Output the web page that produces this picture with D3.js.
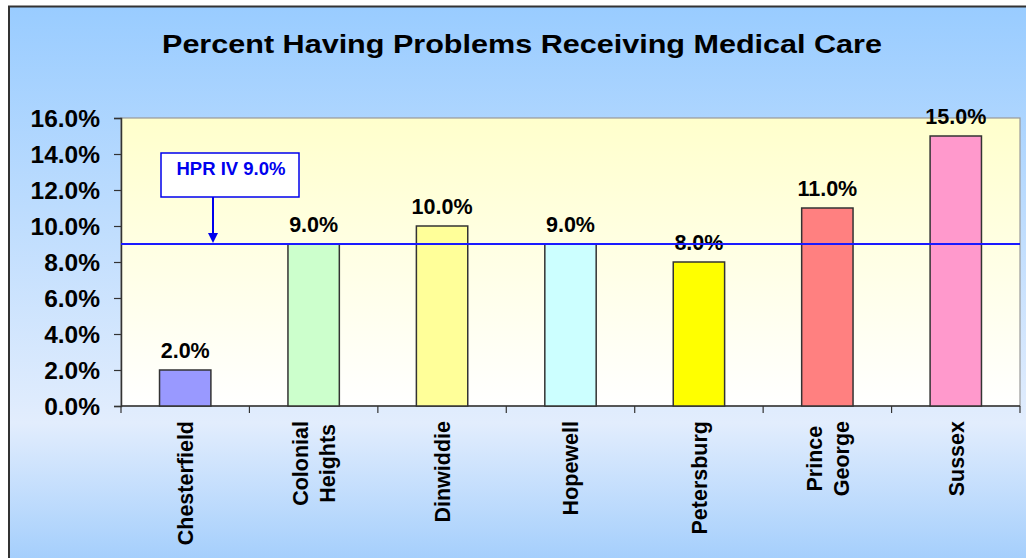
<!DOCTYPE html>
<html><head><meta charset="utf-8">
<script src="https://cdn.jsdelivr.net/npm/d3@7"></script>
<style>html,body{margin:0;padding:0;background:#fff;overflow:hidden}svg{display:block}</style>
</head><body>
<svg id="c" width="1026" height="558"></svg>
<script>
const categories = ["Chesterfield", "Colonial Heights", "Dinwiddie", "Hopewell", "Petersburg", "Prince George", "Sussex"];
const labelLines = [["Chesterfield"], ["Colonial", "Heights"], ["Dinwiddie"], ["Hopewell"], ["Petersburg"], ["Prince", "George"], ["Sussex"]];
const values = [2.0, 9.0, 10.0, 9.0, 8.0, 11.0, 15.0];
const barColors = ["#9999ff", "#ccffcc", "#ffff99", "#ccffff", "#ffff00", "#ff8080", "#ff99cc"];
const yTicks = [0, 2, 4, 6, 8, 10, 12, 14, 16];
const refValue = 9.0;
const refLabel = "HPR IV 9.0%";
const title = "Percent Having Problems Receiving Medical Care";

const svg = d3.select("#c");
const W = 1026, H = 558;
const font = "'Liberation Sans', Arial, Helvetica, sans-serif";
const defs = svg.append("defs");

const bg = defs.append("linearGradient").attr("id","bg").attr("x1",0).attr("x2",0).attr("y1",0).attr("y2",1);
bg.append("stop").attr("offset","0%").attr("stop-color","#99ccff");
bg.append("stop").attr("offset","72%").attr("stop-color","#e2edfd");
bg.append("stop").attr("offset","100%").attr("stop-color","#99c9fc");

const pg = defs.append("linearGradient").attr("id","pg").attr("x1",0).attr("x2",0).attr("y1",0).attr("y2",1);
pg.append("stop").attr("offset","0%").attr("stop-color","#ffffcc");
pg.append("stop").attr("offset","100%").attr("stop-color","#ffffff");

// outer chart area
svg.append("rect").attr("x",9).attr("y",6.5).attr("width",W+20).attr("height",H+20)
  .attr("fill","url(#bg)").attr("stroke","#333").attr("stroke-width",2);

const m = {left:121, right:1020, top:118, bottom:406};
const x = d3.scaleBand().domain(categories).range([m.left, m.right]).paddingInner(0.6).paddingOuter(0.3);
const y = d3.scaleLinear().domain([0,16]).range([m.bottom, m.top]);

// plot area
svg.append("rect").attr("x",m.left).attr("y",m.top).attr("width",m.right-m.left).attr("height",m.bottom-m.top)
  .attr("fill","url(#pg)").attr("stroke","#999").attr("stroke-width",1.2);

// title
svg.append("text").attr("x",522).attr("y",53).attr("text-anchor","middle")
  .attr("font-family",font).attr("font-weight","bold").attr("font-size",26.5).attr("fill","#000")
  .attr("textLength",720).attr("lengthAdjust","spacingAndGlyphs").text(title);

// y axis
const yAxis = svg.append("g").attr("transform",`translate(${m.left},0)`)
  .call(d3.axisLeft(y).tickValues(yTicks).tickFormat(d => d.toFixed(1) + "%").tickSize(7).tickPadding(14));
yAxis.select(".domain").attr("stroke","#333").attr("stroke-width",1.5);
yAxis.selectAll(".tick line").attr("stroke","#333").attr("stroke-width",1.2);
yAxis.selectAll(".tick text").attr("font-family",font).attr("font-weight","bold").attr("font-size",24.5).attr("fill","#000").attr("dy","0.36em");

// x axis
const bounds = d3.range(categories.length + 1).map(i => m.left + i * (m.right - m.left) / categories.length);
svg.append("line").attr("x1",m.left).attr("x2",m.right).attr("y1",m.bottom).attr("y2",m.bottom).attr("stroke","#333").attr("stroke-width",1.5);
svg.append("g").selectAll("line").data(bounds).join("line")
  .attr("x1",d=>d).attr("x2",d=>d).attr("y1",m.bottom).attr("y2",m.bottom+7).attr("stroke","#333").attr("stroke-width",1.2);

// bars
svg.append("g").selectAll("rect").data(values).join("rect")
  .attr("x",(d,i)=>x(categories[i])).attr("width",x.bandwidth())
  .attr("y",d=>y(d)).attr("height",d=>y(0)-y(d))
  .attr("fill",(d,i)=>barColors[i]).attr("stroke","#333").attr("stroke-width",1.5);

// bar labels
svg.append("g").selectAll("text").data(values).join("text")
  .attr("x",(d,i)=>x(categories[i]) + x.bandwidth()/2).attr("y",d=>y(d)-12)
  .attr("text-anchor","middle").attr("font-family",font).attr("font-weight","bold").attr("font-size",21.5)
  .attr("fill","#000").text(d=>d.toFixed(1) + "%");

// reference line
svg.append("line").attr("x1",m.left).attr("x2",m.right).attr("y1",y(refValue)).attr("y2",y(refValue))
  .attr("stroke","#1a1aff").attr("stroke-width",2);

// annotation
const bx = 161, bw = 138, byTop = 153, bh = 44, ax = 213;
svg.append("line").attr("x1",ax).attr("x2",ax).attr("y1",byTop+bh).attr("y2",y(refValue)-10).attr("stroke","#0000ee").attr("stroke-width",2);
svg.append("path").attr("d",`M${ax-5},${y(refValue)-11} L${ax+5},${y(refValue)-11} L${ax},${y(refValue)-1} Z`).attr("fill","#0000ee");
svg.append("rect").attr("x",bx).attr("y",byTop).attr("width",bw).attr("height",bh)
  .attr("fill","#fff").attr("stroke","#0000ee").attr("stroke-width",1.5);
svg.append("text").attr("x",bx+bw/2+1).attr("y",byTop+22).attr("text-anchor","middle")
  .attr("font-family",font).attr("font-weight","bold").attr("font-size",18.5).attr("fill","#0000ee").text(refLabel);

// x labels (rotated)
const xl = svg.append("g");
labelLines.forEach((lines, i) => {
  const cx = x(categories[i]) + x.bandwidth()/2;
  const g = xl.append("g").attr("transform",`translate(${cx},${m.bottom+15}) rotate(-90)`);
  const n = lines.length, gap = 27;
  const texts = lines.map((t, j) => g.append("text")
    .attr("y", (j - (n-1)/2) * gap).attr("dy","0.36em")
    .attr("font-family",font).attr("font-weight","bold").attr("font-size",21.5).attr("fill","#000").text(t));
  const maxW = d3.max(texts.map(t => t.node().getComputedTextLength()));
  texts.forEach(t => t.attr("text-anchor","middle").attr("x", -(maxW/2)));
});
</script>
</body></html>
